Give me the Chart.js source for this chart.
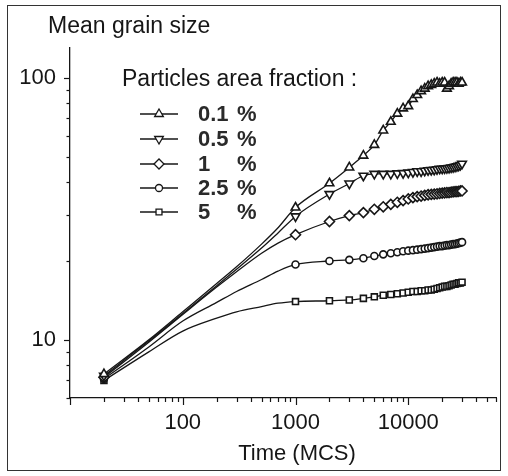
<!DOCTYPE html>
<html>
<head>
<meta charset="utf-8">
<script src="https://cdn.jsdelivr.net/npm/chart.js@4/dist/chart.umd.min.js"></script>
<style>
  html, body { margin: 0; padding: 0; background: #fff; }
  #wrap { position: relative; width: 508px; height: 476px; }
  #frame { position: absolute; left: 7px; top: 5px; width: 492px; height: 464px; border: 1.5px solid #333; pointer-events: none; }
</style>
</head>
<body>
<div id="wrap">
  <canvas id="grainChart"></canvas>
  <div id="frame"></div>
</div>
<script>
// Mean grain size vs time, log-log, one curve per particle fraction

const time = [20, 50, 100, 200, 300, 500, 700, 1000,
  2000, 3000, 4000, 5000, 6000, 7000, 8000, 9000, 10000,
  11000, 12000, 13000, 14000, 15000, 16000, 17000, 18000, 19000, 20000,
  21000, 22000, 23000, 24000, 25000, 26000, 27000, 28000, 29000, 30000];

const frac01 = [7.4, 10, 12.8, 16.4, 19, 23.2, 26.8, 32,
  39.6, 45.5, 50.5, 55.5, 63, 68, 73, 76.5, 78,
  83, 86, 89, 91, 93, 94, 95, 96, 95, 96,
  96, 91, 93, 95, 96, 96, 96, 95, 96, 96];

const frac05 = [7.3, 9.9, 12.6, 16.1, 18.6, 22.4, 25.6, 29.6,
  36, 39.5, 42.3, 43, 43, 43, 43.2, 43.3, 43.5,
  43.7, 44, 44, 44.2, 44.4, 44.5, 44.6, 44.8, 45, 45,
  45.1, 45.2, 45.3, 45.5, 45.6, 45.8, 46, 46.2, 46.5, 47];

const frac1 = [7.2, 9.8, 12.5, 15.9, 18.2, 21.4, 23.4, 25.2,
  28.3, 29.8, 30.6, 31.5, 32.2, 32.9, 33.5, 34, 34.5,
  34.9, 35.2, 35.4, 35.6, 35.8, 35.9, 36, 36.1, 36.2, 36.3,
  36.4, 36.5, 36.5, 36.6, 36.7, 36.8, 36.8, 36.9, 37, 37];

const frac25 = [7.1, 9.4, 11.8, 13.9, 15.3, 17, 18.3, 19.4,
  20, 20.2, 20.5, 20.9, 21.2, 21.4, 21.6, 21.8, 21.9,
  22, 22.1, 22.2, 22.3, 22.4, 22.5, 22.6, 22.7, 22.8, 22.8,
  22.9, 23, 23, 23.1, 23.2, 23.2, 23.3, 23.4, 23.5, 23.6];

const frac5 = [7.0, 9.0, 10.8, 12.1, 12.8, 13.4, 13.8, 14,
  14.1, 14.2, 14.4, 14.6, 14.8, 14.9, 15, 15.1, 15.2,
  15.3, 15.3, 15.4, 15.4, 15.5, 15.5, 15.6, 15.7, 15.8, 15.9,
  16, 16, 16.1, 16.2, 16.3, 16.3, 16.4, 16.5, 16.5, 16.6];

const legendNumbers = ['0.1', '0.5', '1', '2.5', '5'];
const xTickLabels = [100, 1000, 10000];
const yTickLabels = [10, 100];

const FONT = '"Liberation Sans", Arial, sans-serif';
const INK = '#161616';

// marker style per series (same order as legendNumbers)
const markers = [
  { pointStyle: 'triangle', rotation: 0, radius: 5 },
  { pointStyle: 'triangle', rotation: 180, radius: 5 },
  { pointStyle: 'rectRot', rotation: 0, radius: 5 },
  { pointStyle: 'circle', rotation: 0, radius: 3.5 },
  { pointStyle: 'rect', rotation: 0, radius: 4.2 }
];

const seriesValues = [frac01, frac05, frac1, frac25, frac5];

function buildDataset(values, i) {
  const m = markers[i];
  return {
    label: legendNumbers[i] + ' %',
    data: time.map((t, k) => ({ x: t, y: values[k] })),
    borderColor: INK,
    borderWidth: 1.3,
    cubicInterpolationMode: 'monotone',
    pointStyle: m.pointStyle,
    rotation: m.rotation,
    // markers only on the first sample and the sampled points from 1000 on
    pointRadius: ctx => {
      const t = time[ctx.dataIndex];
      return (t === 20 || t >= 1000) ? m.radius : 0;
    },
    pointHoverRadius: 0,
    pointBorderColor: INK,
    pointBackgroundColor: '#fff',
    pointBorderWidth: 1.6
  };
}

function isDecadeStep(v) {
  const p = Math.pow(10, Math.floor(Math.log10(v) + 1e-9));
  const s = v / p;
  return Math.abs(s - Math.round(s)) < 1e-6;
}

// Draws the outward tick marks, the text and the legend block
const decorPlugin = {
  id: 'decor',
  afterDraw(chart) {
    const ctx = chart.ctx;
    const xs = chart.scales.x;
    const ys = chart.scales.y;
    const area = chart.chartArea;
    ctx.save();
    ctx.strokeStyle = INK;
    ctx.lineWidth = 1.2;

    // x ticks (below the axis)
    xs.ticks.forEach(tk => {
      if (!isDecadeStep(tk.value)) return;
      const major = Math.abs(Math.log10(tk.value) % 1) < 1e-9;
      const px = Math.round(xs.getPixelForValue(tk.value)) + 0.5;
      ctx.beginPath();
      ctx.moveTo(px, area.bottom);
      ctx.lineTo(px, area.bottom + (major ? 7 : 4));
      ctx.stroke();
    });
    // y ticks (left of the axis)
    ys.ticks.forEach(tk => {
      if (!isDecadeStep(tk.value)) return;
      const major = Math.abs(Math.log10(tk.value) % 1) < 1e-9;
      const py = Math.round(ys.getPixelForValue(tk.value)) + 0.5;
      ctx.beginPath();
      ctx.moveTo(area.left, py);
      ctx.lineTo(area.left - (major ? 6 : 3.5), py);
      ctx.stroke();
    });

    // titles
    ctx.fillStyle = INK;
    ctx.textBaseline = 'alphabetic';
    ctx.textAlign = 'left';
    ctx.font = '23px ' + FONT;
    ctx.fillText('Mean grain size', 48, 33);
    ctx.font = '22px ' + FONT;
    ctx.textAlign = 'center';
    ctx.fillText('Time (MCS)', 297, 460);

    // legend
    ctx.textAlign = 'left';
    ctx.font = '23px ' + FONT;
    ctx.fillText('Particles area fraction :', 122, 86);
    const rowY = [114, 139, 164, 188, 212];
    legendNumbers.forEach((num, i) => {
      const y = rowY[i];
      ctx.lineWidth = 1.3;
      ctx.beginPath();
      ctx.moveTo(140, y);
      ctx.lineTo(178, y);
      ctx.stroke();
      const m = markers[i];
      ctx.fillStyle = '#fff';
      if (Chart.helpers && Chart.helpers.drawPoint) {
        Chart.helpers.drawPoint(ctx, {
          pointStyle: m.pointStyle, rotation: m.rotation,
          radius: m.radius, borderWidth: 1.4
        }, 159, y);
      }
      ctx.fillStyle = '#2a2a2a';
      ctx.font = 'bold 22px ' + FONT;
      ctx.textBaseline = 'middle';
      ctx.fillText(num, 198, y + 1);
      ctx.fillText('%', 237, y + 1);
    });
    ctx.restore();
  }
};

const chart = new Chart(document.getElementById('grainChart'), {
  type: 'line',
  data: { datasets: seriesValues.map(buildDataset) },
  options: {
    responsive: true,
    maintainAspectRatio: false,
    animation: false,
    layout: { padding: { top: 48, right: 11, left: 0, bottom: 0 } },
    plugins: {
      legend: { display: false },
      tooltip: { enabled: false }
    },
    scales: {
      x: {
        type: 'logarithmic',
        min: 10,
        max: 60000,
        afterFit: s => { s.height = 78; },
        grid: { display: false, drawTicks: false },
        border: { display: true, color: INK, width: 1.3 },
        ticks: {
          autoSkip: false,
          maxRotation: 0,
          padding: 12,
          color: INK,
          font: { family: FONT, size: 22 },
          callback: v => xTickLabels.includes(v) ? String(v) : ''
        }
      },
      y: {
        type: 'logarithmic',
        min: 6,
        max: 130,
        afterFit: s => { s.width = 70; },
        grid: { display: false, drawTicks: false },
        border: { display: true, color: INK, width: 1.3 },
        ticks: {
          autoSkip: false,
          padding: 14,
          color: INK,
          font: { family: FONT, size: 22 },
          callback: v => yTickLabels.includes(v) ? String(v) : ''
        }
      }
    }
  },
  plugins: [decorPlugin]
});
</script>
</body>
</html>
